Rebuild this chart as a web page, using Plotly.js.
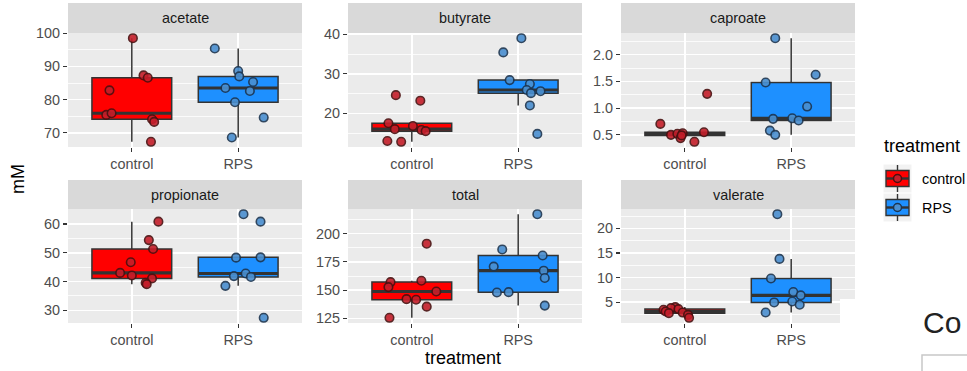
<!DOCTYPE html>
<html>
<head>
<meta charset="utf-8">
<script src="https://cdn.plot.ly/plotly-3.0.1.min.js"></script>
<style>
  html, body { margin: 0; padding: 0; background: #ffffff; }
  #chart { width: 967px; height: 371px; }
</style>
</head>
<body>
<div id="chart"></div>
<script>
// ---------------- data ----------------
const categories = ['control', 'RPS'];
const panelNames = ['acetate', 'butyrate', 'caproate', 'propionate', 'total', 'valerate'];
const panelDticks = [10, 10, 0.5, 10, 25, 5];

const acetate_control = [98.5, 82.8, 75.4, 75.9, 87.3, 86.6, 74.1, 73.3, 67.3];
const acetate_control_jitter = [0.01, -0.21, -0.24, -0.19, 0.11, 0.15, 0.19, 0.21, 0.18];
const acetate_rps = [95.4, 88.6, 87.0, 83.5, 85.3, 82.6, 79.2, 74.6, 68.6];
const acetate_rps_jitter = [-0.22, 0.0, 0.01, -0.12, 0.14, 0.11, -0.03, 0.24, -0.06];

const butyrate_control = [24.6, 23.2, 17.5, 16.0, 16.8, 15.8, 15.5, 13.0, 12.8];
const butyrate_control_jitter = [-0.15, 0.08, -0.22, -0.16, 0.01, 0.09, 0.13, -0.23, -0.10];
const butyrate_rps = [39.0, 35.4, 28.4, 27.4, 25.9, 25.1, 25.6, 22.0, 14.8];
const butyrate_rps_jitter = [0.03, -0.14, -0.08, 0.11, 0.08, 0.12, 0.21, 0.11, 0.18];

const caproate_control = [0.705, 1.268, 0.50, 0.52, 0.53, 0.44, 0.37, 0.55, 0.49];
const caproate_control_jitter = [-0.23, 0.21, -0.13, -0.07, -0.02, -0.04, 0.09, 0.18, -0.03];
const caproate_rps = [2.31, 1.48, 1.625, 1.03, 0.80, 0.81, 0.77, 0.58, 0.50];
const caproate_rps_jitter = [-0.15, -0.24, 0.23, 0.15, -0.17, 0.01, 0.07, -0.20, -0.15];

const propionate_control = [60.8, 54.4, 51.3, 46.7, 43.0, 42.1, 41.1, 39.6, 39.1];
const propionate_control_jitter = [0.25, 0.16, 0.20, -0.01, -0.11, 0.0, 0.19, 0.13, 0.14];
const propionate_rps = [63.4, 60.8, 48.3, 48.4, 42.8, 41.9, 41.6, 38.5, 27.4];
const propionate_rps_jitter = [0.05, 0.21, -0.02, 0.21, 0.07, -0.04, 0.12, -0.12, 0.24];

const total_control = [191.1, 157.1, 152.7, 158.3, 148.8, 142.0, 141.5, 135.4, 125.5];
const total_control_jitter = [0.14, -0.20, -0.22, 0.09, 0.23, -0.05, 0.04, 0.14, -0.21];
const total_rps = [217.2, 186.0, 170.8, 180.6, 167.2, 160.7, 147.9, 148.2, 136.3];
const total_rps_jitter = [0.18, -0.15, -0.23, 0.23, 0.24, 0.25, -0.20, -0.09, 0.25];

const valerate_control = [3.98, 3.78, 3.57, 3.43, 3.08, 2.75, 2.87, 2.40, 1.8];
const valerate_control_jitter = [-0.09, -0.13, -0.06, -0.20, -0.18, -0.15, -0.02, 0.03, 0.04];
const valerate_rps = [22.9, 13.8, 9.8, 7.06, 6.37, 4.93, 5.13, 4.46, 2.88];
const valerate_rps_jitter = [-0.13, -0.11, -0.19, 0.02, 0.09, -0.16, 0.01, 0.08, -0.24];

// ---------------- assembly ----------------
const panelData = [
  [[acetate_control, acetate_control_jitter], [acetate_rps, acetate_rps_jitter]],
  [[butyrate_control, butyrate_control_jitter], [butyrate_rps, butyrate_rps_jitter]],
  [[caproate_control, caproate_control_jitter], [caproate_rps, caproate_rps_jitter]],
  [[propionate_control, propionate_control_jitter], [propionate_rps, propionate_rps_jitter]],
  [[total_control, total_control_jitter], [total_rps, total_rps_jitter]],
  [[valerate_control, valerate_control_jitter], [valerate_rps, valerate_rps_jitter]]
];

const W = 967, H = 371;
const px = v => v / W;
const py = v => 1 - v / H;

const boxFill = ['#FF0000', '#1E90FF'];
const ptFill = ['#C41E2A', '#4A8FD0'];
const ptLine = ['#4A1010', '#1C3550'];
const boxLine = '#333333';
const FONT = '"Liberation Sans", Arial, Helvetica, sans-serif';

const colX = [[68, 302], [348, 582], [621, 855]];
const rowY = [[33, 147], [209, 323]];
const stripY = [[3, 33], [180, 209]];

const traces = [];
const layout = {
  width: W, height: H, autosize: false,
  margin: {l: 0, r: 0, t: 0, b: 0},
  paper_bgcolor: '#FFFFFF',
  plot_bgcolor: '#EBEBEB',
  showlegend: false,
  hovermode: false,
  font: {family: FONT},
  shapes: [],
  annotations: []
};

function median(arr) {
  const s = arr.slice().sort((a, b) => a - b);
  const n = s.length;
  return n % 2 ? s[(n - 1) / 2] : (s[n / 2 - 1] + s[n / 2]) / 2;
}

panelNames.forEach((name, i) => {
  const r = Math.floor(i / 3), c = i % 3;
  const xa = 'x' + (i === 0 ? '' : i + 1);
  const ya = 'y' + (i === 0 ? '' : i + 1);
  const xKey = 'xaxis' + (i === 0 ? '' : i + 1);
  const yKey = 'yaxis' + (i === 0 ? '' : i + 1);

  let all = [];
  panelData[i].forEach(([vals, jit], g) => {
    all = all.concat(vals);
    traces.push({
      type: 'box', y: vals, x0: g, xaxis: xa, yaxis: ya,
      width: 0.75, quartilemethod: 'inclusive',
      boxpoints: 'outliers', marker: {opacity: 0, size: 1},
      fillcolor: boxFill[g], line: {color: boxLine, width: 1.5},
      whiskerwidth: 0, hoverinfo: 'skip'
    });
    const m = median(vals);
    traces.push({
      type: 'scatter', mode: 'lines', xaxis: xa, yaxis: ya,
      x: [g - 0.375, g + 0.375], y: [m, m],
      line: {color: boxLine, width: 3.2}, hoverinfo: 'skip'
    });
    traces.push({
      type: 'scatter', mode: 'markers', xaxis: xa, yaxis: ya,
      x: vals.map((v, k) => g + jit[k]), y: vals,
      marker: {size: 8.5, color: ptFill[g], opacity: 0.9,
               line: {color: ptLine[g], width: 1.6}},
      hoverinfo: 'skip'
    });
  });

  const mn = Math.min(...all), mx = Math.max(...all);
  const pad = (mx - mn) * 0.05;
  const dt = panelDticks[i];

  layout[xKey] = {
    domain: [px(colX[c][0]), px(colX[c][1])],
    anchor: ya, range: [-0.6, 1.6],
    tickmode: 'array', tickvals: [0, 1], ticktext: categories,
    showgrid: true, gridcolor: '#FFFFFF', gridwidth: 1.5,
    zeroline: false, showline: false,
    ticks: 'outside', ticklen: 4, tickwidth: 1.2, tickcolor: '#333333',
    tickfont: {size: 14.4, color: '#4D4D4D', family: FONT},
    fixedrange: true
  };
  layout[yKey] = {
    domain: [py(rowY[r][1]), py(rowY[r][0])],
    anchor: xa, range: [mn - pad, mx + pad],
    tick0: 0, dtick: dt,
    tickformat: dt < 1 ? '.1f' : 'd',
    showgrid: true, gridcolor: '#FFFFFF', gridwidth: 1.5,
    minor: {tick0: 0, dtick: dt / 2, showgrid: true, gridcolor: '#FFFFFF', gridwidth: 0.8, ticks: ''},
    zeroline: false, showline: false,
    ticks: 'outside', ticklen: 4, tickwidth: 1.2, tickcolor: '#333333',
    tickfont: {size: 14.4, color: '#4D4D4D', family: FONT},
    fixedrange: true
  };

  // strip
  layout.shapes.push({
    type: 'rect', xref: 'paper', yref: 'paper', layer: 'below',
    x0: px(colX[c][0]), x1: px(colX[c][1]),
    y0: py(stripY[r][1]), y1: py(stripY[r][0]),
    fillcolor: '#D9D9D9', line: {width: 0}
  });
  layout.annotations.push({
    xref: 'paper', yref: 'paper',
    x: px((colX[c][0] + colX[c][1]) / 2), y: py((stripY[r][0] + stripY[r][1]) / 2),
    xanchor: 'center', yanchor: 'middle', showarrow: false,
    text: name, font: {size: 14.4, color: '#1A1A1A', family: FONT}
  });
});

// axis titles
layout.annotations.push({
  xref: 'paper', yref: 'paper', x: px(463), y: py(358),
  xanchor: 'center', yanchor: 'middle', showarrow: false,
  text: 'treatment', font: {size: 18, color: '#000000', family: FONT}
});
layout.annotations.push({
  xref: 'paper', yref: 'paper', x: px(18), y: py(179),
  xanchor: 'center', yanchor: 'middle', showarrow: false, textangle: -90,
  text: 'mM', font: {size: 18, color: '#000000', family: FONT}
});

// legend (drawn manually, ggplot style)
layout.annotations.push({
  xref: 'paper', yref: 'paper', x: px(882), y: py(146),
  xanchor: 'left', yanchor: 'middle', showarrow: false,
  text: 'treatment', font: {size: 18, color: '#000000', family: FONT}
});
const keyCY = [178.5, 207.5];
categories.forEach((cat, g) => {
  const cy = keyCY[g];
  layout.shapes.push({type: 'rect', xref: 'paper', yref: 'paper', layer: 'above',
    x0: px(883.5), x1: px(911.5), y0: py(cy + 14), y1: py(cy - 14),
    fillcolor: '#F2F2F2', line: {width: 0}});
  layout.shapes.push({type: 'line', xref: 'paper', yref: 'paper', layer: 'above',
    x0: px(897.5), x1: px(897.5), y0: py(cy + 13.5), y1: py(cy - 13.5),
    line: {color: boxLine, width: 1.4}});
  layout.shapes.push({type: 'rect', xref: 'paper', yref: 'paper', layer: 'above',
    x0: px(886), x1: px(909), y0: py(cy + 8), y1: py(cy - 8),
    fillcolor: boxFill[g], line: {color: boxLine, width: 1.4}});
  layout.shapes.push({type: 'line', xref: 'paper', yref: 'paper', layer: 'above',
    x0: px(886), x1: px(909), y0: py(cy), y1: py(cy),
    line: {color: boxLine, width: 2.4}});
  layout.shapes.push({type: 'circle', xref: 'paper', yref: 'paper', layer: 'above',
    x0: px(893.5), x1: px(901.5), y0: py(cy + 4), y1: py(cy - 4),
    fillcolor: ptFill[g], line: {color: ptLine[g], width: 1.5}});
  layout.annotations.push({
    xref: 'paper', yref: 'paper', x: px(920), y: py(cy),
    xanchor: 'left', yanchor: 'middle', showarrow: false,
    text: cat, font: {size: 14.4, color: '#000000', family: FONT}
  });
});

// page elements overlapping the screenshot
layout.shapes.push({type: 'rect', xref: 'paper', yref: 'paper', layer: 'above',
  x0: px(840), x1: px(975), y0: py(345), y1: py(299),
  fillcolor: '#FFFFFF', line: {width: 0}});
layout.shapes.push({type: 'rect', xref: 'paper', yref: 'paper', layer: 'above',
  x0: px(922), x1: px(1000), y0: py(400), y1: py(355),
  fillcolor: '#FFFFFF', line: {color: '#C8C8C8', width: 1.5}});
layout.annotations.push({
  xref: 'paper', yref: 'paper', x: px(921), y: py(322),
  xanchor: 'left', yanchor: 'middle', showarrow: false,
  text: 'Co', font: {size: 30, color: '#222222', family: FONT}
});

Plotly.newPlot('chart', traces, layout, {staticPlot: true, displayModeBar: false});
</script>
</body>
</html>
